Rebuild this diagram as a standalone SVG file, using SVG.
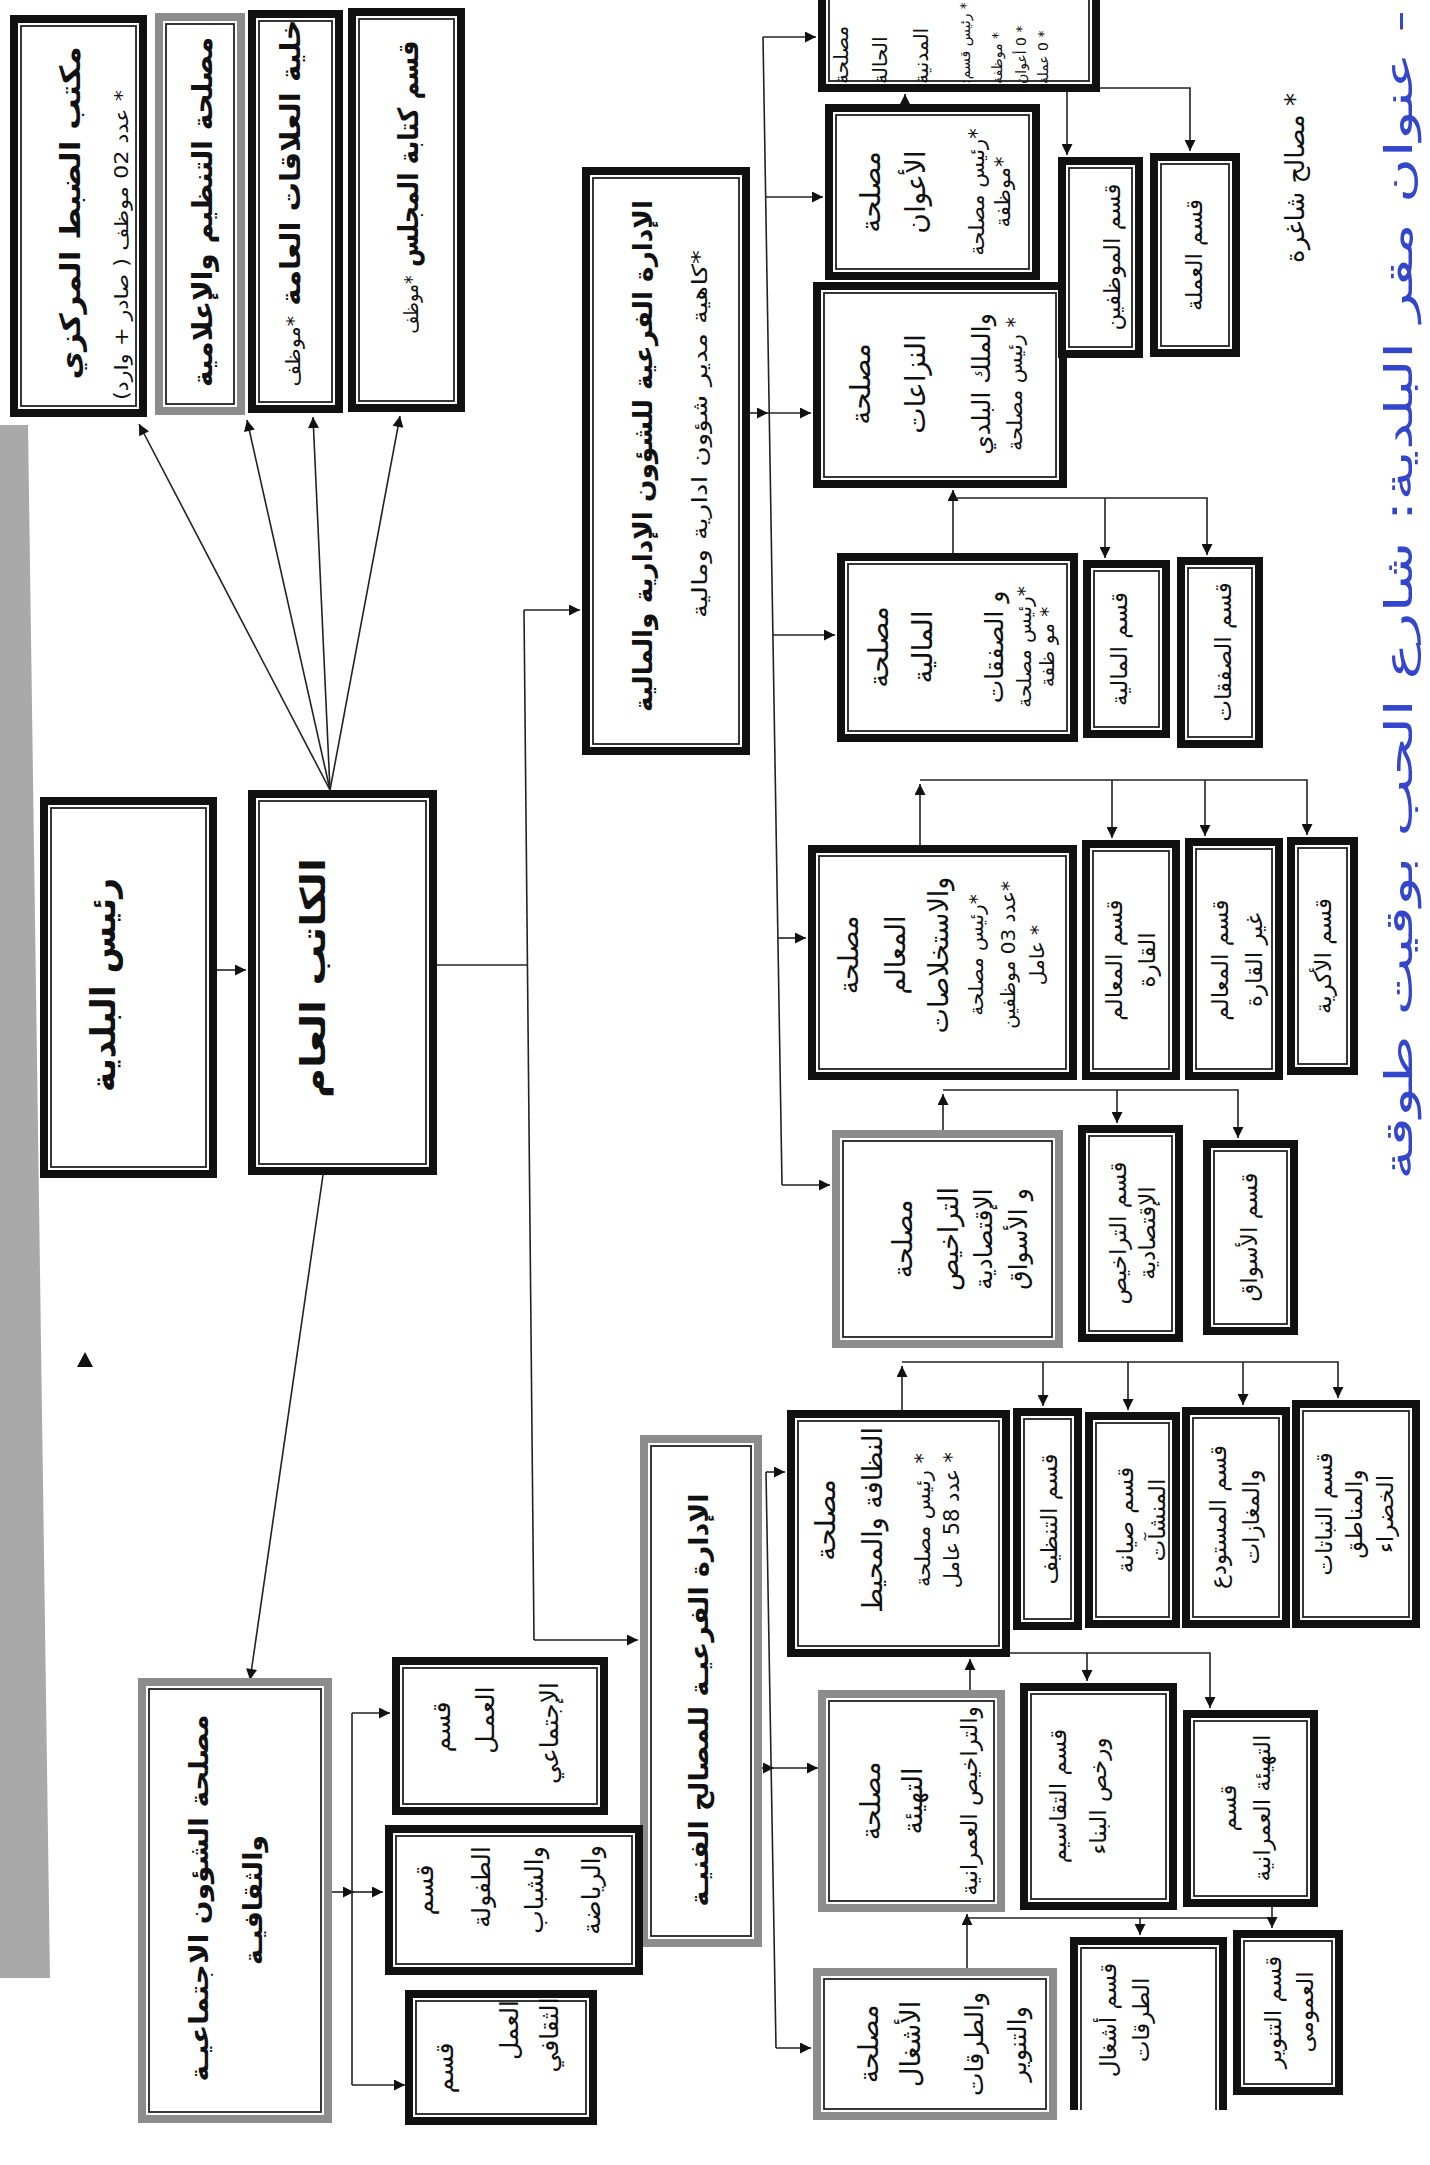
<svg xmlns="http://www.w3.org/2000/svg" width="1430" height="2165" viewBox="0 0 1430 2165">
<style>
.ob{fill:#fff;stroke:#111;stroke-width:8}
.og{fill:#fff;stroke:#8c8c8c;stroke-width:8}
.in{fill:none;stroke:#222;stroke-width:1.8}
.cn path{fill:none;stroke:#222;stroke-width:1.6}
text{font-family:"DejaVu Sans",sans-serif;fill:#111;direction:rtl;text-anchor:middle}
.h{font-weight:bold}
.e{text-anchor:end}
.s{text-anchor:start}
.blue{fill:#3446cc}
</style>
<defs>
<marker id="ah" viewBox="0 0 10 10" refX="10" refY="5" markerWidth="13" markerHeight="11" markerUnits="userSpaceOnUse" orient="auto"><path d="M0,0 L10,5 L0,10 z" fill="#111"/></marker>
</defs>
<rect width="1430" height="2165" fill="#fff"/>
<polygon points="0,425 28,425 50,1978 0,1978" fill="#a9a9a9"/>
<polygon points="85,1352 93,1367 77,1367" fill="#111"/>

<g id="connectors" class="cn">
<path d="M330,790 L139,424" marker-end="url(#ah)"/>
<path d="M330,790 L247,420" marker-end="url(#ah)"/>
<path d="M330,790 L313,417" marker-end="url(#ah)"/>
<path d="M330,790 L400,416" marker-end="url(#ah)"/>
<path d="M217,970 H246" marker-end="url(#ah)"/>
<path d="M437,965 H528"/>
<path d="M524,610 L534,1640"/>
<path d="M524,610 H580" marker-end="url(#ah)"/>
<path d="M534,1640 H638" marker-end="url(#ah)"/>
<path d="M323,1175 L250,1680" marker-end="url(#ah)"/>
<path d="M750,413 H768" marker-end="url(#ah)"/>
<path d="M768,413 H811" marker-end="url(#ah)"/>
<path d="M763,37 L782,1185"/>
<path d="M763,37 H816" marker-end="url(#ah)"/>
<path d="M766,197 H823" marker-end="url(#ah)"/>
<path d="M773,635 H835" marker-end="url(#ah)"/>
<path d="M778,938 H806" marker-end="url(#ah)"/>
<path d="M782,1185 H830" marker-end="url(#ah)"/>
<path d="M905,104 V94" marker-end="url(#ah)"/>
<path d="M1100,88 H1190 V151" marker-end="url(#ah)"/>
<path d="M1067,92 V155" marker-end="url(#ah)"/>
<path d="M953,553 V490" marker-end="url(#ah)"/>
<path d="M953,498 H1207 V555" marker-end="url(#ah)"/>
<path d="M1105,498 V558" marker-end="url(#ah)"/>
<path d="M920,845 V784" marker-end="url(#ah)"/>
<path d="M920,780 H1307 V835" marker-end="url(#ah)"/>
<path d="M1112,780 V838" marker-end="url(#ah)"/>
<path d="M1205,780 V836" marker-end="url(#ah)"/>
<path d="M943,1130 V1094" marker-end="url(#ah)"/>
<path d="M943,1090 H1238 V1138" marker-end="url(#ah)"/>
<path d="M1117,1090 V1123" marker-end="url(#ah)"/>
<path d="M762,1768 H774" marker-end="url(#ah)"/>
<path d="M774,1768 H818" marker-end="url(#ah)"/>
<path d="M766,1472 L776,2048"/>
<path d="M766,1472 H785" marker-end="url(#ah)"/>
<path d="M776,2048 H811" marker-end="url(#ah)"/>
<path d="M902,1410 V1366" marker-end="url(#ah)"/>
<path d="M902,1362 H1338 V1398" marker-end="url(#ah)"/>
<path d="M1043,1362 V1406" marker-end="url(#ah)"/>
<path d="M1128,1362 V1410" marker-end="url(#ah)"/>
<path d="M1243,1362 V1405" marker-end="url(#ah)"/>
<path d="M970,1690 V1659" marker-end="url(#ah)"/>
<path d="M1010,1653 H1210 V1708" marker-end="url(#ah)"/>
<path d="M1087,1653 V1681" marker-end="url(#ah)"/>
<path d="M967,1968 V1914" marker-end="url(#ah)"/>
<path d="M967,1918 H1272"/>
<path d="M1272,1907 V1928" marker-end="url(#ah)"/>
<path d="M1140,1918 V1935" marker-end="url(#ah)"/>
<path d="M332,1892 H354" marker-end="url(#ah)"/>
<path d="M352,1713 V2085"/>
<path d="M352,1713 H390" marker-end="url(#ah)"/>
<path d="M352,1892 H383" marker-end="url(#ah)"/>
<path d="M352,2085 H405" marker-end="url(#ah)"/>
</g>

<g id="n-dabt"><rect class="ob" x="14" y="19" width="129" height="394"/><rect class="in" x="21" y="26" width="115" height="380"/>
<text class="h" transform="translate(80 213) rotate(-90)" font-size="28" textLength="333" lengthAdjust="spacingAndGlyphs">مكتب الضبط المركزي</text>
<text transform="translate(128 245) rotate(-90)" font-size="19" textLength="310" lengthAdjust="spacingAndGlyphs">* عدد 02 موظف ( صادر + وارد)</text></g>

<g id="n-tanzim"><rect class="og" x="159" y="17" width="82" height="394"/><rect class="in" x="166" y="24" width="68" height="380"/>
<text class="h" transform="translate(212 212) rotate(-90)" font-size="28" textLength="350" lengthAdjust="spacingAndGlyphs">مصلحة التنظيم والإعلامية</text></g>

<g id="n-alaqat"><rect class="ob" x="252" y="14" width="87" height="395"/><rect class="in" x="259" y="21" width="73" height="381"/>
<text class="h" transform="translate(300 203) rotate(-90)" font-size="28" textLength="367" lengthAdjust="spacingAndGlyphs">خلية العلاقات العامة <tspan font-size="20" font-weight="normal">*موظف</tspan></text></g>

<g id="n-kitaba"><rect class="ob" x="352" y="12" width="109" height="396"/><rect class="in" x="359" y="19" width="95" height="382"/>
<text class="h" transform="translate(418 187) rotate(-90)" font-size="28" textLength="293" lengthAdjust="spacingAndGlyphs">قسم كتابة المجلس <tspan font-size="20" font-weight="normal">*موظف</tspan></text></g>

<g id="n-rais"><rect class="ob" x="44" y="801" width="169" height="373"/><rect class="in" x="51" y="808" width="155" height="359"/>
<text class="h" transform="translate(115 985) rotate(-90)" font-size="34" textLength="214" lengthAdjust="spacingAndGlyphs">رئيس البلدية</text></g>

<g id="n-katib"><rect class="ob" x="252" y="794" width="181" height="377"/><rect class="in" x="259" y="801" width="167" height="363"/>
<text class="h" transform="translate(325 978) rotate(-90)" font-size="34" textLength="240" lengthAdjust="spacingAndGlyphs">الكاتب العام</text></g>

<g id="n-idara1"><rect class="ob" x="586" y="171" width="160" height="580"/><rect class="in" x="593" y="178" width="146" height="566"/>
<text class="h" transform="translate(652 456) rotate(-90)" font-size="26" textLength="512" lengthAdjust="spacingAndGlyphs">الإدارة الفرعية للشؤون الإدارية والمالية</text>
<text transform="translate(707 434) rotate(-90)" font-size="21" textLength="368" lengthAdjust="spacingAndGlyphs">*كاهية مدير شؤون ادارية ومالية</text></g>

<g id="n-madania"><rect class="ob" x="822" y="-16" width="274" height="104"/><rect class="in" x="829" y="-9" width="260" height="90"/>
<text class="e" transform="translate(848 84) rotate(-90)" font-size="20">مصلحة</text>
<text class="e" transform="translate(887 84) rotate(-90)" font-size="20">الحالة</text>
<text class="e" transform="translate(928 84) rotate(-90)" font-size="20">المدنية</text>
<text class="e" transform="translate(970 84) rotate(-90)" font-size="14">* رئيس قسم:</text>
<text class="e" transform="translate(1002 84) rotate(-90)" font-size="14">* موظفة</text>
<text class="e" transform="translate(1026 84) rotate(-90)" font-size="14">* 0 أعوان</text>
<text class="e" transform="translate(1048 84) rotate(-90)" font-size="14">* 0 عملة</text></g>

<g id="n-aawan"><rect class="ob" x="829" y="108" width="207" height="168"/><rect class="in" x="836" y="115" width="193" height="154"/>
<text transform="translate(880 192) rotate(-90)" font-size="28">مصلحة</text>
<text transform="translate(925 192) rotate(-90)" font-size="28">الأعوان</text>
<text transform="translate(984 192) rotate(-90)" font-size="21">*رئيس مصلحة</text>
<text transform="translate(1010 192) rotate(-90)" font-size="21">*موظفة</text></g>

<g id="n-nizaat"><rect class="ob" x="817" y="286" width="246" height="198"/><rect class="in" x="824" y="293" width="232" height="184"/>
<text transform="translate(870 384) rotate(-90)" font-size="28">مصلحة</text>
<text transform="translate(925 384) rotate(-90)" font-size="28">النزاعات</text>
<text transform="translate(990 384) rotate(-90)" font-size="25">والملك البلدي</text>
<text transform="translate(1022 384) rotate(-90)" font-size="21">* رئيس مصلحة</text></g>

<g id="n-muwazzafin"><rect class="ob" x="1062" y="161" width="77" height="193"/><rect class="in" x="1069" y="168" width="63" height="179"/>
<text transform="translate(1120 257) rotate(-90)" font-size="23">قسم الموظفين</text></g>

<g id="n-amala"><rect class="ob" x="1154" y="157" width="82" height="196"/><rect class="in" x="1161" y="164" width="68" height="182"/>
<text transform="translate(1202 255) rotate(-90)" font-size="23">قسم العملة</text></g>

<g id="n-maliya"><rect class="ob" x="841" y="557" width="233" height="181"/><rect class="in" x="848" y="564" width="219" height="167"/>
<text transform="translate(888 647) rotate(-90)" font-size="28">مصلحة</text>
<text transform="translate(932 647) rotate(-90)" font-size="28">المالية</text>
<text transform="translate(1003 647) rotate(-90)" font-size="25">و الصفقات</text>
<text transform="translate(1031 647) rotate(-90)" font-size="20">*رئيس مصلحة</text>
<text transform="translate(1054 647) rotate(-90)" font-size="20">* مو ظفة</text></g>

<g id="n-qmaliya"><rect class="ob" x="1087" y="564" width="79" height="170"/><rect class="in" x="1094" y="571" width="65" height="156"/>
<text transform="translate(1127 649) rotate(-90)" font-size="23">قسم المالية</text></g>

<g id="n-qsafaqat"><rect class="ob" x="1181" y="561" width="78" height="183"/><rect class="in" x="1188" y="568" width="64" height="169"/>
<text transform="translate(1231 652) rotate(-90)" font-size="23">قسم الصفقات</text></g>

<g id="n-maalim"><rect class="ob" x="812" y="849" width="261" height="227"/><rect class="in" x="819" y="856" width="247" height="213"/>
<text transform="translate(858 955) rotate(-90)" font-size="27">مصلحة</text>
<text transform="translate(905 955) rotate(-90)" font-size="27">المعالم</text>
<text transform="translate(948 955) rotate(-90)" font-size="27">والاستخلاصات</text>
<text transform="translate(983 955) rotate(-90)" font-size="20">*رئيس مصلحة</text>
<text transform="translate(1015 955) rotate(-90)" font-size="20">*عدد 03 موظفين</text>
<text transform="translate(1044 955) rotate(-90)" font-size="20">* عامل</text></g>

<g id="n-q-qarra"><rect class="ob" x="1086" y="844" width="90" height="232"/><rect class="in" x="1093" y="851" width="76" height="218"/>
<text transform="translate(1122 960) rotate(-90)" font-size="23">قسم المعالم</text>
<text transform="translate(1155 960) rotate(-90)" font-size="23">القارة</text></g>

<g id="n-q-ghayr"><rect class="ob" x="1189" y="842" width="90" height="234"/><rect class="in" x="1196" y="849" width="76" height="220"/>
<text transform="translate(1228 960) rotate(-90)" font-size="23">قسم المعالم</text>
<text transform="translate(1262 960) rotate(-90)" font-size="23">غير القارة</text></g>

<g id="n-q-akriya"><rect class="ob" x="1291" y="841" width="63" height="230"/><rect class="in" x="1298" y="848" width="49" height="216"/>
<text transform="translate(1331 956) rotate(-90)" font-size="23">قسم الأكرية</text></g>

<g id="n-tarakhis"><rect class="og" x="836" y="1134" width="223" height="210"/><rect class="in" x="843" y="1141" width="209" height="196"/>
<text transform="translate(912 1239) rotate(-90)" font-size="27">مصلحة</text>
<text transform="translate(958 1239) rotate(-90)" font-size="27">التراخيص</text>
<text transform="translate(992 1239) rotate(-90)" font-size="25">الإقتصادية</text>
<text transform="translate(1027 1239) rotate(-90)" font-size="25">و الأسواق</text></g>

<g id="n-q-tarakhis"><rect class="ob" x="1082" y="1129" width="97" height="209"/><rect class="in" x="1089" y="1136" width="83" height="195"/>
<text transform="translate(1126 1233) rotate(-90)" font-size="23">قسم التراخيص</text>
<text transform="translate(1155 1233) rotate(-90)" font-size="23">الإقتصادية</text></g>

<g id="n-q-aswaq"><rect class="ob" x="1207" y="1144" width="87" height="187"/><rect class="in" x="1214" y="1151" width="73" height="173"/>
<text transform="translate(1257 1237) rotate(-90)" font-size="23">قسم الأسواق</text></g>

<g id="n-idara2"><rect class="og" x="644" y="1439" width="114" height="504"/><rect class="in" x="651" y="1446" width="100" height="490"/>
<text class="h" transform="translate(708 1700) rotate(-90)" font-size="26" textLength="413" lengthAdjust="spacingAndGlyphs">الإدارة الفرعيـة للمصالح الفنيـة</text></g>

<g id="n-nazafa"><rect class="ob" x="791" y="1414" width="215" height="239"/><rect class="in" x="798" y="1421" width="201" height="225"/>
<text transform="translate(835 1520) rotate(-90)" font-size="28">مصلحة</text>
<text transform="translate(882 1520) rotate(-90)" font-size="27">النظافة والمحيط</text>
<text transform="translate(930 1520) rotate(-90)" font-size="21">* رئيس مصلحة</text>
<text transform="translate(959 1520) rotate(-90)" font-size="21">* عدد 58 عامل</text></g>

<g id="n-q-tanzif"><rect class="ob" x="1017" y="1412" width="61" height="214"/><rect class="in" x="1024" y="1419" width="47" height="200"/>
<text transform="translate(1057 1519) rotate(-90)" font-size="23">قسم التنظيف</text></g>

<g id="n-q-siyana"><rect class="ob" x="1089" y="1416" width="87" height="208"/><rect class="in" x="1096" y="1423" width="73" height="194"/>
<text transform="translate(1133 1520) rotate(-90)" font-size="23">قسم صيانة</text>
<text transform="translate(1165 1520) rotate(-90)" font-size="23">المنشآت</text></g>

<g id="n-q-mustawda"><rect class="ob" x="1186" y="1411" width="100" height="213"/><rect class="in" x="1193" y="1418" width="86" height="199"/>
<text transform="translate(1226 1517) rotate(-90)" font-size="23">قسم المستودع</text>
<text transform="translate(1259 1517) rotate(-90)" font-size="23">والمغازات</text></g>

<g id="n-q-nabatat"><rect class="ob" x="1296" y="1404" width="120" height="220"/><rect class="in" x="1303" y="1411" width="106" height="206"/>
<text transform="translate(1332 1514) rotate(-90)" font-size="23">قسم النباتات</text>
<text transform="translate(1362 1514) rotate(-90)" font-size="23">والمناطق</text>
<text transform="translate(1393 1514) rotate(-90)" font-size="23">الخضراء</text></g>

<g id="n-tahyia"><rect class="og" x="822" y="1694" width="179" height="214"/><rect class="in" x="829" y="1701" width="165" height="200"/>
<text transform="translate(880 1801) rotate(-90)" font-size="27">مصلحة</text>
<text transform="translate(922 1801) rotate(-90)" font-size="27">التهيئة</text>
<text transform="translate(977 1801) rotate(-90)" font-size="23">والتراخيص العمرانية</text></g>

<g id="n-q-taqasim"><rect class="ob" x="1024" y="1687" width="149" height="219"/><rect class="in" x="1031" y="1694" width="135" height="205"/>
<text transform="translate(1066 1796) rotate(-90)" font-size="23">قسم التقاسيم</text>
<text transform="translate(1106 1796) rotate(-90)" font-size="23">ورخص البناء</text></g>

<g id="n-q-tahyia"><rect class="ob" x="1187" y="1714" width="127" height="189"/><rect class="in" x="1194" y="1721" width="113" height="175"/>
<text transform="translate(1236 1808) rotate(-90)" font-size="23">قسم</text>
<text transform="translate(1270 1808) rotate(-90)" font-size="23">التهيئة العمرانية</text></g>

<g id="n-ashghal"><rect class="og" x="817" y="1972" width="236" height="144"/><rect class="in" x="824" y="1979" width="222" height="130"/>
<text transform="translate(878 2044) rotate(-90)" font-size="27">مصلحة</text>
<text transform="translate(920 2044) rotate(-90)" font-size="27">الأشغال</text>
<text transform="translate(983 2044) rotate(-90)" font-size="25">والطرقات</text>
<text transform="translate(1026 2044) rotate(-90)" font-size="25">والتنوير</text></g>

<g id="n-q-turuqat"><path d="M1074,2110 V1941 H1223 V2110" fill="#fff" stroke="#111" stroke-width="8"/><path d="M1081,2110 V1948 H1216 V2110" fill="none" stroke="#222" stroke-width="1.8"/>
<text transform="translate(1116 2020) rotate(-90)" font-size="23">قسم أشغال</text>
<text transform="translate(1149 2020) rotate(-90)" font-size="23">الطرقات</text></g>

<g id="n-q-tanwir"><rect class="ob" x="1237" y="1934" width="102" height="157"/><rect class="in" x="1244" y="1941" width="88" height="143"/>
<text transform="translate(1281 2012) rotate(-90)" font-size="23">قسم التنوير</text>
<text transform="translate(1313 2012) rotate(-90)" font-size="23">العمومى</text></g>

<g id="n-ijtimaiya"><rect class="og" x="142" y="1682" width="186" height="437"/><rect class="in" x="149" y="1689" width="172" height="423"/>
<text class="h" transform="translate(208 1898) rotate(-90)" font-size="26" textLength="367" lengthAdjust="spacingAndGlyphs">مصلحة الشؤون الاجتماعيـة</text>
<text class="h" transform="translate(262 1900) rotate(-90)" font-size="26" textLength="130" lengthAdjust="spacingAndGlyphs">والثقافيـة</text></g>

<g id="n-q-amal-ijt"><rect class="ob" x="396" y="1661" width="208" height="150"/><rect class="in" x="403" y="1668" width="194" height="136"/>
<text transform="translate(450 1727) rotate(-90)" font-size="25">قسم</text>
<text transform="translate(494 1720) rotate(-90)" font-size="25">العمـل</text>
<text transform="translate(558 1733) rotate(-90)" font-size="25">الإجتماعي</text></g>

<g id="n-q-tufula"><rect class="ob" x="389" y="1829" width="250" height="142"/><rect class="in" x="396" y="1836" width="236" height="128"/>
<text transform="translate(433 1890) rotate(-90)" font-size="25">قسم</text>
<text transform="translate(490 1887) rotate(-90)" font-size="25">الطفولة</text>
<text transform="translate(543 1890) rotate(-90)" font-size="25">والشباب</text>
<text transform="translate(600 1890) rotate(-90)" font-size="25">والرياضة</text></g>

<g id="n-q-thaqafi"><rect class="ob" x="409" y="1994" width="184" height="127"/><rect class="in" x="416" y="2001" width="170" height="113"/>
<text transform="translate(453 2068) rotate(-90)" font-size="25">قسم</text>
<text transform="translate(518 2030) rotate(-90)" font-size="25">العمل</text>
<text transform="translate(558 2035) rotate(-90)" font-size="25">الثقافي</text></g>

<g id="notes">
<text transform="translate(1304 178) rotate(-90)" font-size="26">* مصالح شاغرة</text>
<text class="s blue" transform="translate(1412 10) rotate(-90)" font-size="38" textLength="1170" lengthAdjust="spacingAndGlyphs">- عنوان مقر البلدية: شارع الحب بوقيت طوقة</text>
</g>
</svg>
